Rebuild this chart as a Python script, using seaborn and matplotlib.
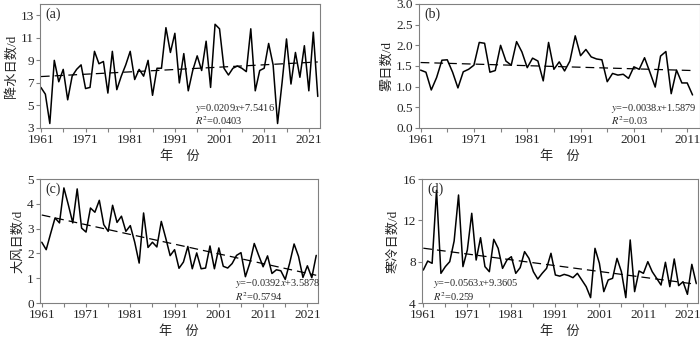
import matplotlib
matplotlib.use("Agg")
import matplotlib.pyplot as plt
import seaborn as sns
import numpy as np
import pandas as pd

# ---------------- data ----------------
years_a = list(range(1961, 2024))
rain_days = [6.6, 6.0, 3.4, 9.0, 7.1, 8.2, 5.5, 7.6, 8.2, 8.6,
             6.5, 6.6, 9.8, 8.7, 8.9, 6.1, 9.8, 6.4, 7.6, 8.6,
             9.8, 7.3, 8.2, 7.6, 9.0, 5.9, 8.3, 8.3, 11.9, 9.7,
             11.4, 7.0, 9.6, 6.3, 8.1, 9.4, 8.1, 10.7, 6.6, 12.2,
             11.8, 8.3, 7.7, 8.3, 8.5, 8.3, 8.0, 11.8, 6.3, 8.1,
             8.3, 10.5, 8.6, 3.4, 7.0, 10.9, 6.9, 9.7, 7.5, 10.3,
             6.3, 11.5, 5.8]

years_b = list(range(1961, 2013))
fog_days = [1.40, 1.35, 0.92, 1.22, 1.64, 1.65, 1.35, 0.97, 1.36, 1.42,
            1.52, 2.07, 2.05, 1.35, 1.39, 2.00, 1.62, 1.52, 2.09, 1.84,
            1.46, 1.69, 1.62, 1.14, 2.07, 1.42, 1.60, 1.38, 1.62, 2.23,
            1.75, 1.90, 1.72, 1.67, 1.65, 1.12, 1.32, 1.28, 1.30, 1.20,
            1.48, 1.42, 1.70, 1.35, 0.99, 1.74, 1.85, 0.83, 1.40, 1.09,
            1.09, 0.80]

years_c = list(range(1961, 2024))
wind_days = [2.45, 2.15, 2.80, 3.43, 3.23, 4.64, 3.96, 3.23, 4.60, 3.02,
             2.86, 3.83, 3.66, 4.14, 3.16, 2.89, 3.94, 3.25, 3.50, 2.89,
             3.12, 2.45, 1.61, 3.63, 2.24, 2.45, 2.26, 3.29, 2.62, 1.91,
             2.15, 1.40, 1.65, 2.28, 1.38, 2.02, 1.38, 1.41, 2.30, 1.38,
             2.22, 1.48, 1.41, 1.59, 1.92, 2.03, 1.06, 1.61, 2.40, 1.92,
             1.46, 1.90, 1.19, 1.34, 1.30, 0.95, 1.61, 2.38, 1.88, 1.03,
             1.50, 1.02, 1.92]

years_d = list(range(1961, 2024))
cold_days = [7.19, 8.06, 7.84, 14.9, 6.87, 7.52, 8.0, 10.0, 14.45, 7.52,
             9.13, 12.68, 8.16, 10.32, 7.52, 7.03, 10.16, 9.29, 7.35, 8.16,
             8.48, 6.87, 7.42, 8.97, 8.32, 7.03, 6.32, 6.87, 7.35, 8.81,
             6.71, 6.60, 6.77, 6.65, 6.45, 6.87, 6.23, 5.58, 4.52, 9.29,
             7.84, 5.10, 6.23, 6.39, 8.32, 7.03, 4.52, 10.1, 5.10, 7.10,
             6.87, 8.0, 7.03, 6.39, 5.74, 7.94, 5.58, 8.26, 5.68, 6.06,
             4.84, 7.74, 5.90]

# trend equations printed on the chart (x = 1, 2, ... n)
trend_slope = [0.0209, -0.0038, -0.0392, -0.0563]
trend_intercept = [7.5416, 1.5879, 3.5878, 9.3605]
eq_texts = ["$y$=0.0209$x$+7.5416", "$y$=\u22120.0038$x$+1.5879",
            "$y$=\u22120.0392$x$+3.5878", "$y$=\u22120.0563$x$+9.3605"]
r2_texts = ["$R^2$=0.0403", "$R^2$=0.03", "$R^2$=0.5794", "$R^2$=0.259"]
panel_tags = ["(a)", "(b)", "(c)", "(d)"]
ylabels = ["降水日数/d", "雾日数/d", "大风日数/d", "寒冷日数/d"]
xlabel = "年\u3000份"
yticks_all = [[3, 5, 7, 9, 11, 13], [0.0, 0.5, 1.0, 1.5, 2.0, 2.5, 3.0],
              [0, 1, 2, 3, 4, 5], [4, 8, 12, 16]]
ytick_labels = [["3", "5", "7", "9", "11", "13"],
                ["0.0", "0.5", "1.0", "1.5", "2.0", "2.5", "3.0"],
                ["0", "1", "2", "3", "4", "5"], ["4", "8", "12", "16"]]
xtick_labels_all = [[1961, 1971, 1981, 1991, 2001, 2011, 2021],
                    [1961, 1971, 1981, 1991, 2001, 2011],
                    [1961, 1971, 1981, 1991, 2001, 2011, 2021],
                    [1961, 1971, 1981, 1991, 2001, 2011, 2021]]

# ---------------- style ----------------
sns.set_style("white")
plt.rcParams['font.family'] = ['Liberation Serif', 'Noto Sans CJK SC', 'DejaVu Sans']
plt.rcParams['mathtext.fontset'] = 'stix'
plt.rcParams['axes.unicode_minus'] = True

fig = plt.figure(figsize=(7, 3.4), dpi=100)
W, H = 700.0, 340.0

def ax_rect(l, r, t, b):
    return [l / W, (H - b) / H, (r - l) / W, (b - t) / H]

rects = [ax_rect(40, 320, 4, 128), ax_rect(419, 700, 4, 128),
         ax_rect(40, 318, 179, 303), ax_rect(422, 698, 179, 303)]
xlims = [(1960.8, 2023.5), (1960.7, 2013.4), (1960.6, 2023.4), (1960.7, 2023.4)]
ylims = [(3, 14), (0, 3), (0, 5), (4, 16)]
eq_pos = [(0.555, 0.16, 0.06), (0.685, 0.16, 0.06), (0.70, 0.155, 0.05), (0.04, 0.155, 0.05)]

series = [(years_a, rain_days), (years_b, fog_days), (years_c, wind_days), (years_d, cold_days)]
spine_col = '#808080'

for i, (yrs, vals) in enumerate(series):
    ax = fig.add_axes(rects[i])
    n = len(yrs)
    idx = np.arange(1, n + 1)
    trend = trend_slope[i] * idx + trend_intercept[i]
    df = pd.DataFrame({"year": yrs, "value": vals, "trend": trend})
    sns.lineplot(data=df, x="year", y="value", ax=ax, color='black', lw=1.1)
    sns.lineplot(data=df, x="year", y="trend", ax=ax, color='black', lw=0.9,
                 linestyle=(0, (7, 4)))
    ax.set_xlim(*xlims[i])
    ax.set_ylim(*ylims[i])
    ax.set_yticks(yticks_all[i])
    ax.set_yticklabels(ytick_labels[i])
    majors = xtick_labels_all[i]
    ax.set_xticks(majors)
    ax.set_xticklabels([str(v) for v in majors])
    minors = [v + 5 for v in majors if v + 5 <= xlims[i][1]]
    ax.set_xticks(minors, minor=True)
    for sp in ax.spines.values():
        sp.set_color(spine_col)
        sp.set_linewidth(0.8)
    ax.tick_params(axis='both', which='both', direction='out', length=3,
                   width=0.8, color=spine_col, labelsize=9.5, pad=1.5,
                   bottom=True, left=True)
    ax.set_ylabel(ylabels[i], fontsize=9.5, labelpad=2)
    ax.set_xlabel(xlabel, fontsize=9.5, labelpad=3)
    ax.text(0.02, 0.97, panel_tags[i], transform=ax.transAxes, fontsize=10,
            ha='left', va='top')
    ex, ey1, ey2 = eq_pos[i]
    ax.text(ex, ey1, eq_texts[i], transform=ax.transAxes, fontsize=7.5,
            ha='left', va='center')
    ax.text(ex, ey2, r2_texts[i], transform=ax.transAxes, fontsize=7.5,
            ha='left', va='center')

fig.savefig("out.png", dpi=100)
